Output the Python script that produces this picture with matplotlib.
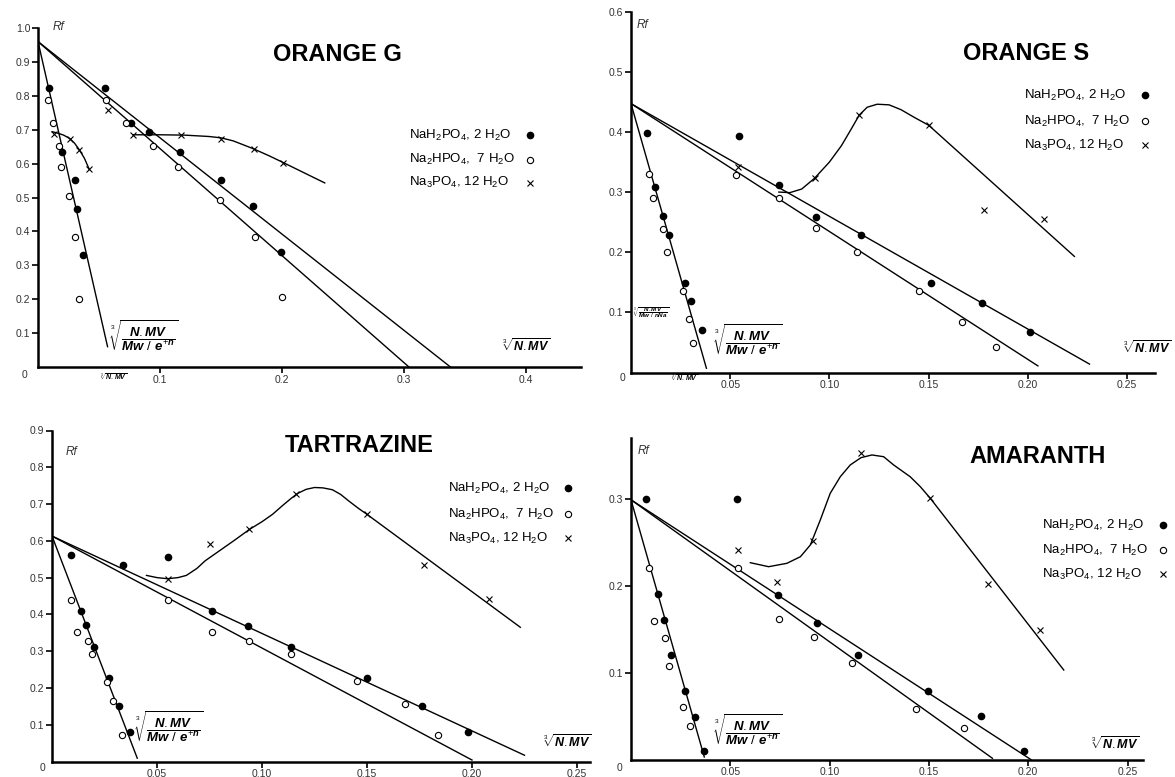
import matplotlib.pyplot as plt

plt.rcParams['font.family'] = ['Liberation Sans', 'DejaVu Sans']
plt.rcParams['mathtext.fontset'] = 'custom'
plt.rcParams['mathtext.rm'] = 'Liberation Sans'
plt.rcParams['mathtext.it'] = 'Liberation Sans:italic:bold'
plt.rcParams['mathtext.bf'] = 'Liberation Sans:bold'

salts = [r'NaH$_2$PO$_4$, 2 H$_2$O', r'Na$_2$HPO$_4$,  7 H$_2$O', r'Na$_3$PO$_4$, 12 H$_2$O']

# ---- ORANGE G
og_fill_x = [0.009, 0.020, 0.030, 0.032, 0.037, 0.055, 0.076, 0.091, 0.116, 0.150, 0.176, 0.199]
og_fill_y = [0.823, 0.634, 0.552, 0.467, 0.329, 0.823, 0.721, 0.694, 0.634, 0.552, 0.476, 0.338]
og_open_x = [0.008, 0.012, 0.017, 0.019, 0.025, 0.030, 0.034, 0.056, 0.072, 0.094, 0.115, 0.149, 0.178, 0.200]
og_open_y = [0.789, 0.721, 0.652, 0.591, 0.504, 0.383, 0.201, 0.789, 0.721, 0.652, 0.591, 0.494, 0.383, 0.207]
og_cross_x = [0.013, 0.026, 0.034, 0.042, 0.057, 0.078, 0.117, 0.150, 0.177, 0.201]
og_cross_y = [0.687, 0.674, 0.640, 0.583, 0.758, 0.683, 0.683, 0.674, 0.643, 0.603]
og_line_x = [[0, 0.057], [0, 0.338], [0, 0.304]]
og_line_y = [[0.96, 0.06], [0.96, 0.0], [0.96, 0.0]]
og_curve1_x = [0.0117, 0.016, 0.021, 0.026, 0.030, 0.034, 0.038, 0.042]
og_curve1_y = [0.694, 0.690, 0.684, 0.674, 0.660, 0.640, 0.616, 0.583]
og_curve2_x = [0.078, 0.10, 0.12, 0.14, 0.150, 0.160, 0.170, 0.177, 0.19, 0.201, 0.235]
og_curve2_y = [0.685, 0.685, 0.684, 0.680, 0.676, 0.667, 0.653, 0.643, 0.622, 0.603, 0.543]

# ---- ORANGE S
os_fill_x = [0.008, 0.012, 0.016, 0.019, 0.027, 0.030, 0.036, 0.0545, 0.0745, 0.093, 0.116, 0.151, 0.177, 0.201]
os_fill_y = [0.398, 0.309, 0.260, 0.228, 0.148, 0.119, 0.070, 0.393, 0.312, 0.258, 0.229, 0.149, 0.116, 0.068]
os_open_x = [0.009, 0.011, 0.016, 0.018, 0.026, 0.029, 0.031, 0.053, 0.0745, 0.093, 0.114, 0.145, 0.167, 0.184]
os_open_y = [0.330, 0.290, 0.238, 0.200, 0.136, 0.089, 0.049, 0.329, 0.290, 0.240, 0.200, 0.135, 0.084, 0.043]
os_cross_x = [0.054, 0.0925, 0.115, 0.150, 0.178, 0.208]
os_cross_y = [0.341, 0.323, 0.428, 0.411, 0.270, 0.255]
os_line_x = [[0, 0.038], [0, 0.231], [0, 0.205]]
os_line_y = [[0.447, 0.007], [0.447, 0.014], [0.447, 0.011]]
os_curve_x = [0.0745, 0.080, 0.086, 0.0925, 0.100, 0.106, 0.111, 0.115, 0.119, 0.124, 0.130, 0.136,
              0.1428, 0.150, 0.2234]
os_curve_y = [0.300, 0.299, 0.305, 0.323, 0.350, 0.377, 0.405, 0.428, 0.441, 0.446, 0.445, 0.437,
              0.424, 0.411, 0.193]

# ---- TARTRAZINE
tz_fill_x = [0.009, 0.014, 0.016, 0.020, 0.027, 0.032, 0.037, 0.034, 0.055, 0.076, 0.0935, 0.114, 0.150, 0.176, 0.198]
tz_fill_y = [0.561, 0.409, 0.370, 0.312, 0.228, 0.150, 0.080, 0.533, 0.557, 0.410, 0.369, 0.310, 0.226, 0.150, 0.080]
tz_open_x = [0.009, 0.012, 0.017, 0.019, 0.026, 0.029, 0.0335, 0.055, 0.076, 0.094, 0.114, 0.145, 0.168, 0.184]
tz_open_y = [0.440, 0.353, 0.327, 0.291, 0.217, 0.165, 0.073, 0.440, 0.352, 0.327, 0.291, 0.219, 0.156, 0.071]
tz_cross_x = [0.055, 0.075, 0.094, 0.116, 0.150, 0.177, 0.208]
tz_cross_y = [0.497, 0.591, 0.631, 0.727, 0.672, 0.533, 0.441]
tz_line_x = [[0, 0.0406], [0, 0.225], [0, 0.200]]
tz_line_y = [[0.613, 0.009], [0.613, 0.017], [0.613, 0.004]]
tz_curve_x = [0.045, 0.050, 0.055, 0.060, 0.064, 0.069, 0.073, 0.080, 0.087, 0.094, 0.100, 0.105,
              0.110, 0.114, 0.117, 0.121, 0.125, 0.129, 0.1335, 0.1375, 0.1414, 0.146, 0.150, 0.223]
tz_curve_y = [0.506, 0.500, 0.497, 0.500, 0.506, 0.525, 0.546, 0.574, 0.602, 0.631, 0.652, 0.672,
              0.697, 0.716, 0.729, 0.740, 0.745, 0.744, 0.739, 0.726, 0.708, 0.688, 0.672, 0.365]

# ---- AMARANTH
am_fill_x = [0.0076, 0.0134, 0.0168, 0.0201, 0.0274, 0.032, 0.0366, 0.0534, 0.0739, 0.0937, 0.1141, 0.1495, 0.1762, 0.1977]
am_fill_y = [0.300, 0.191, 0.161, 0.120, 0.079, 0.049, 0.010, 0.300, 0.190, 0.157, 0.120, 0.079, 0.050, 0.010]
am_open_x = [0.009, 0.0117, 0.017, 0.019, 0.026, 0.0296, 0.0537, 0.0745, 0.092, 0.1113, 0.1437, 0.1678]
am_open_y = [0.221, 0.160, 0.140, 0.108, 0.060, 0.039, 0.220, 0.162, 0.141, 0.111, 0.058, 0.036]
am_cross_x = [0.054, 0.0735, 0.0915, 0.1158, 0.1507, 0.1798, 0.2061]
am_cross_y = [0.241, 0.204, 0.252, 0.3525, 0.301, 0.202, 0.149]
am_line_x = [[0, 0.0369], [0, 0.2014], [0, 0.182]]
am_line_y = [[0.299, 0.003], [0.299, 0.0], [0.299, 0.0015]]
am_curve_x = [0.0601, 0.0693, 0.0785, 0.0853, 0.0903, 0.0953, 0.1003, 0.1054, 0.1104, 0.1158, 0.1213,
              0.1272, 0.1323, 0.1406, 0.1457, 0.1507, 0.2179]
am_curve_y = [0.2266, 0.2220, 0.2259, 0.2335, 0.2470, 0.2757, 0.3064, 0.3256, 0.3391, 0.3475, 0.3506,
              0.3486, 0.3390, 0.3255, 0.3140, 0.3007, 0.1031]

big_root = r'$\sqrt[3]{\dfrac{\mathit{N.MV}}{\mathit{Mw\ /\ e^{+n}}}}$'
small_root = r'$\sqrt[3]{\mathit{N.MV}}$'
tiny_root = r'$\sqrt[3]{\dfrac{\mathit{N.MV}}{\mathit{Mw\ /\ nNa}}}$'

panels = [
    dict(pos=[38 / 1175, 410 / 777, 543 / 1175, 339 / 777], xlim=0.445, ylim=1.0,
         xticks=[0.1, 0.2, 0.3, 0.4], xfmt='{:.1f}', yticks=[0.1 * i for i in range(1, 11)],
         fill=(og_fill_x, og_fill_y), open=(og_open_x, og_open_y), cross=(og_cross_x, og_cross_y),
         lines=(og_line_x, og_line_y), curves=[(og_curve1_x, og_curve1_y), (og_curve2_x, og_curve2_y)],
         title='ORANGE G', title_xy=(0.245, 0.923), leg_x=0.304, leg_y=[0.684, 0.611, 0.543], mark_x=0.403,
         rf=(0.017, 1.004), root_xy=(0.0865, 0.094), right_root=(0.400, 0.062),
         tick_root=(0.062, -0.027), zero=(-0.011, -0.024)),
    dict(pos=[631 / 1175, 404.5 / 777, 524 / 1175, 360.9 / 777], xlim=0.264, ylim=0.6,
         xticks=[0.05, 0.10, 0.15, 0.20, 0.25], xfmt='{:.2f}', yticks=[0.1 * i for i in range(1, 7)],
         fill=(os_fill_x, os_fill_y), open=(os_open_x, os_open_y), cross=(os_cross_x, os_cross_y),
         lines=(os_line_x, os_line_y), curves=[(os_curve_x, os_curve_y)],
         title='ORANGE S', title_xy=(0.199, 0.531), leg_x=0.198, leg_y=[0.461, 0.418, 0.378], mark_x=0.259,
         rf=(0.006, 0.578), root_xy=(0.0589, 0.054), right_root=(0.260, 0.042),
         tick_root=(0.027, -0.009), zero=(-0.0045, -0.009), tiny_root=(0.001, 0.099)),
    dict(pos=[52 / 1175, 15.5 / 777, 537.6 / 1175, 331 / 777], xlim=0.256, ylim=0.9,
         xticks=[0.05, 0.10, 0.15, 0.20, 0.25], xfmt='{:.2f}', yticks=[0.1 * i for i in range(1, 10)],
         fill=(tz_fill_x, tz_fill_y), open=(tz_open_x, tz_open_y), cross=(tz_cross_x, tz_cross_y),
         lines=(tz_line_x, tz_line_y), curves=[(tz_curve_x, tz_curve_y)],
         title='TARTRAZINE', title_xy=(0.1465, 0.858), leg_x=0.1887, leg_y=[0.743, 0.673, 0.607], mark_x=0.2459,
         rf=(0.0094, 0.842), root_xy=(0.0557, 0.0954), right_root=(0.2452, 0.055),
         zero=(-0.0044, -0.018)),
    dict(pos=[631 / 1175, 17.4 / 777, 512.4 / 1175, 321.5 / 777], xlim=0.258, ylim=0.37,
         xticks=[0.05, 0.10, 0.15, 0.20, 0.25], xfmt='{:.2f}', yticks=[0.1, 0.2, 0.3],
         fill=(am_fill_x, am_fill_y), open=(am_open_x, am_open_y), cross=(am_cross_x, am_cross_y),
         lines=(am_line_x, am_line_y), curves=[(am_curve_x, am_curve_y)],
         title='AMARANTH', title_xy=(0.2048, 0.3486), leg_x=0.2071, leg_y=[0.270, 0.2412, 0.2132], mark_x=0.2677,
         rf=(0.0062, 0.355), root_xy=(0.0587, 0.034), right_root=(0.2437, 0.018),
         zero=(-0.006, -0.0094)),
]

fig = plt.figure(figsize=(11.75, 7.77), dpi=100)

for p in panels:
    ax = fig.add_axes(p['pos'])
    ax.set_xlim(0, p['xlim'])
    ax.set_ylim(0, p['ylim'])
    for s in ['top', 'right']:
        ax.spines[s].set_visible(False)
    for s in ['left', 'bottom']:
        ax.spines[s].set_linewidth(1.8)
    ax.set_xticks(p['xticks'])
    ax.set_xticklabels([p['xfmt'].format(v) for v in p['xticks']])
    ax.set_yticks(p['yticks'])
    ax.set_yticklabels(['{:.1f}'.format(v) for v in p['yticks']])
    ax.tick_params(direction='out', length=4, width=1.2, labelsize=7.5, labelcolor='#333333', pad=1.5)

    for lx, ly in zip(*p['lines']):
        ax.plot(lx, ly, color='black', lw=1.0)
    for cx, cy in p['curves']:
        ax.plot(cx, cy, color='black', lw=1.0, solid_joinstyle='round')

    ax.plot(*p['fill'], 'o', color='black', ms=4.5, ls='none')
    ax.plot(*p['open'], 'o', mfc='white', mec='black', mew=0.8, ms=4.5, ls='none')
    ax.plot(*p['cross'], 'x', color='black', mew=0.8, ms=4, ls='none')

    ax.text(*p['title_xy'], p['title'], fontsize=17, fontweight='bold', ha='center', va='center')
    for lab, ly in zip(salts, p['leg_y']):
        ax.text(p['leg_x'], ly, lab, fontsize=9.5, family=['Liberation Sans Narrow', 'Liberation Sans'],
                va='center', ha='left', clip_on=False)
    ax.plot([p['mark_x']], [p['leg_y'][0]], 'o', color='black', ms=4.5, clip_on=False)
    ax.plot([p['mark_x']], [p['leg_y'][1]], 'o', mfc='white', mec='black', mew=0.8, ms=4.5, clip_on=False)
    ax.plot([p['mark_x']], [p['leg_y'][2]], 'x', color='black', mew=0.8, ms=4, clip_on=False)

    ax.text(*p['rf'], 'Rf', fontsize=8.5, style='italic', color='#333333', ha='center', va='center')
    ax.text(*p['root_xy'], big_root, fontsize=9.5, ha='center', va='center')
    ax.text(*p['right_root'], small_root, fontsize=9, ha='center', va='center')
    ax.text(*p['zero'], '0', fontsize=7.5, color='#333333', ha='center', va='center', clip_on=False)
    if 'tick_root' in p:
        ax.text(*p['tick_root'], small_root, fontsize=5, ha='center', va='center', clip_on=False)
    if 'tiny_root' in p:
        ax.text(*p['tiny_root'], tiny_root, fontsize=4.5, ha='left', va='center')

fig.savefig('out.png', dpi=100)
